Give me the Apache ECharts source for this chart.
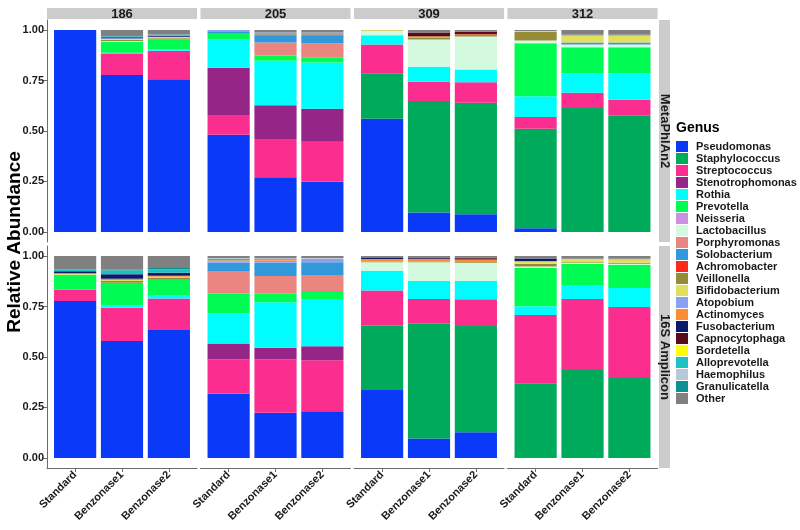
<!DOCTYPE html>
<html>
<head>
<meta charset="utf-8">
<script src="https://cdn.jsdelivr.net/npm/echarts@6/dist/echarts.min.js"></script>
<style>html,body{margin:0;padding:0;background:#fff}#c{width:800px;height:530px}</style>
</head>
<body>
<div id="c"></div>
<script>
const genera = ['Pseudomonas','Staphylococcus','Streptococcus','Stenotrophomonas','Rothia','Prevotella','Neisseria','Lactobacillus','Porphyromonas','Solobacterium','Achromobacter','Veillonella','Bifidobacterium','Atopobium','Actinomyces','Fusobacterium','Capnocytophaga','Bordetella','Alloprevotella','Haemophilus','Granulicatella','Other'];
const genusColors = ['#0a3af7','#00aa5b','#fb2d8e','#952586','#00fdfd','#00fb52','#cc90e0','#d3fadf','#ea8580','#3397dc','#fd2a1a','#968c38','#e0e05e','#8aa0f3','#fd8c37','#0c1a6c','#5a0b1b','#fdfd00','#1fc0c0','#b8c8db','#0f9090','#808080'];
const samples = ['Standard','Benzonase1','Benzonase2'];
const subjects = ['186','205','309','312'];
const methods = ['MetaPhlAn2','16S Amplicon'];
const yTicks = [0, 0.25, 0.5, 0.75, 1];

// MetaPhlAn2 values (Standard, Benzonase1, Benzonase2)
const meta186 = {
  Pseudomonas:[1.0,0.777,0.757], Streptococcus:[0,0.105,0.141], Rothia:[0,0.006,0.007],
  Prevotella:[0,0.055,0.048], Lactobacillus:[0,0.003,0], Veillonella:[0,0.006,0.006],
  Bifidobacterium:[0,0.004,0.005], Atopobium:[0,0.003,0.003], Fusobacterium:[0,0.005,0.005],
  Alloprevotella:[0,0.006,0.006], Other:[0,0.030,0.022]
};
const meta205 = {
  Pseudomonas:[0.482,0.271,0.248], Streptococcus:[0.097,0.189,0.199], Stenotrophomonas:[0.234,0.167,0.163],
  Rothia:[0.141,0.221,0.230], Prevotella:[0.028,0.026,0.025], Porphyromonas:[0,0.064,0.069],
  Solobacterium:[0.009,0.035,0.039], Achromobacter:[0,0.003,0.003], Veillonella:[0,0.004,0.004],
  Atopobium:[0.009,0.008,0.008], Other:[0,0.012,0.012]
};
const meta309 = {
  Pseudomonas:[0.561,0.096,0.088], Staphylococcus:[0.225,0.553,0.552], Streptococcus:[0.142,0.095,0.102],
  Rothia:[0.047,0.074,0.063], Lactobacillus:[0.020,0.135,0.163], Veillonella:[0.003,0.010,0.008],
  Bifidobacterium:[0.002,0,0], Actinomyces:[0,0.007,0.004], Fusobacterium:[0,0.006,0],
  Capnocytophaga:[0,0.012,0.012], Other:[0,0.012,0.008]
};
const meta312 = {
  Pseudomonas:[0.018,0,0], Staphylococcus:[0.493,0.614,0.578], Streptococcus:[0.058,0.076,0.077],
  Rothia:[0.103,0.096,0.130], Prevotella:[0.263,0.129,0.130], Lactobacillus:[0.013,0.013,0.013],
  Solobacterium:[0,0.010,0.010], Veillonella:[0.042,0,0], Bifidobacterium:[0.006,0.034,0.034],
  Atopobium:[0,0.005,0.005], Other:[0.004,0.023,0.023]
};
// 16S Amplicon values
const amp186 = {
  Pseudomonas:[0.777,0.579,0.634], Streptococcus:[0.056,0.165,0.156], Rothia:[0,0.013,0.014],
  Prevotella:[0.070,0.111,0.082], Veillonella:[0.005,0.008,0.008], Bifidobacterium:[0.004,0.006,0.004],
  Actinomyces:[0.003,0.006,0.004], Fusobacterium:[0.010,0.022,0.016], Alloprevotella:[0.010,0.018,0.017],
  Granulicatella:[0,0.005,0.006], Other:[0.065,0.067,0.059]
};
const amp205 = {
  Pseudomonas:[0.318,0.224,0.231], Streptococcus:[0.170,0.264,0.253], Stenotrophomonas:[0.079,0.058,0.069],
  Rothia:[0.149,0.225,0.234], Prevotella:[0.099,0.042,0.040], Porphyromonas:[0.111,0.088,0.079],
  Solobacterium:[0.041,0.066,0.063], Atopobium:[0.008,0.010,0.012], Actinomyces:[0.004,0.008,0.006],
  Alloprevotella:[0.006,0,0], Haemophilus:[0.006,0.004,0.003], Other:[0.009,0.011,0.010]
};
const amp309 = {
  Pseudomonas:[0.337,0.096,0.127], Staphylococcus:[0.318,0.569,0.526], Streptococcus:[0.175,0.122,0.133],
  Rothia:[0.097,0.089,0.090], Lactobacillus:[0.042,0.093,0.091], Veillonella:[0.004,0.003,0.004],
  Actinomyces:[0.012,0.013,0.012], Fusobacterium:[0.005,0.004,0.004], Capnocytophaga:[0,0.004,0.005],
  Other:[0.010,0.007,0.008]
};
const amp312 = {
  Pseudomonas:[0.003,0,0], Staphylococcus:[0.367,0.436,0.396], Streptococcus:[0.338,0.351,0.352],
  Rothia:[0.044,0.066,0.094], Prevotella:[0.190,0.109,0.115], Lactobacillus:[0.006,0.004,0.005],
  Veillonella:[0.014,0.004,0.005], Bifidobacterium:[0.010,0.014,0.016], Atopobium:[0,0.003,0.004],
  Actinomyces:[0.004,0,0], Fusobacterium:[0.012,0,0], Other:[0.012,0.013,0.013]
};
const panelData = [[meta186, meta205, meta309, meta312], [amp186, amp205, amp309, amp312]];

// layout
const FONT = '"Liberation Sans", Arial, sans-serif';
const colLeft = [47, 200.5, 354, 507.5];
const panelW = 150;
const rowTop = [20, 246];
const panelH = 222;
const unit = panelW / 3.2;           // discrete axis expanded by 0.6 on each side
const stripColor = '#cccccc';
const axisColor = '#6b6b6b';

const grids = [], xAxes = [], yAxes = [], series = [], graphics = [];
let gi = 0;
for (let r = 0; r < 2; r++) {
  for (let c = 0; c < 4; c++) {
    const bottom = r === 1, left = c === 0;
    // outer grid: axes, ticks and labels
    grids.push({left: colLeft[c], top: rowTop[r], width: panelW, height: panelH});
    xAxes.push({
      gridIndex: gi, type: 'value', min: 0.4, max: 3.6,
      axisLine: {show: bottom, onZero: false, lineStyle: {color: axisColor, width: 1}},
      axisTick: {show: bottom, length: 4, customValues: [1,2,3], lineStyle: {color: axisColor}},
      axisLabel: {show: bottom, customValues: [1,2,3], rotate: 45, margin: 5,
        formatter: v => samples[Math.round(v) - 1] || '',
        fontFamily: FONT, fontWeight: 'bold', fontSize: 11, color: '#1a1a1a'},
      splitLine: {show: false}
    });
    yAxes.push({
      gridIndex: gi, type: 'value', min: -0.05, max: 1.05,
      axisLine: {show: left, lineStyle: {color: axisColor, width: 1}},
      axisTick: {show: left, length: 4, customValues: yTicks, lineStyle: {color: axisColor}},
      axisLabel: {show: left, customValues: yTicks, margin: 3,
        formatter: v => v.toFixed(2),
        fontFamily: FONT, fontWeight: 'bold', fontSize: 11, color: '#1a1a1a'},
      splitLine: {show: false}
    });
    gi++;
    // inner grid: category axis holding the bars
    grids.push({left: colLeft[c] + 0.1 * unit, top: rowTop[r], width: 3 * unit, height: panelH});
    xAxes.push({gridIndex: gi, type: 'category', data: samples, show: false});
    yAxes.push({gridIndex: gi, type: 'value', min: -0.05, max: 1.05, show: false});
    const d = panelData[r][c];
    genera.forEach((g, k) => {
      series.push({
        type: 'bar', name: g, xAxisIndex: gi, yAxisIndex: gi, stack: 'p' + gi,
        barWidth: '90%',
        data: d[g] || [0, 0, 0],
        itemStyle: {color: genusColors[k], borderWidth: 0},
        emphasis: {disabled: true}, silent: true
      });
    });
    gi++;
  }
}
// top strips
for (let c = 0; c < 4; c++) {
  graphics.push({type: 'rect', shape: {x: colLeft[c], y: 8, width: panelW, height: 11}, style: {fill: stripColor}, silent: true});
  graphics.push({type: 'text', x: colLeft[c] + panelW / 2, y: 14, style: {text: subjects[c], font: 'bold 13px ' + FONT, fill: '#1a1a1a', align: 'center', verticalAlign: 'middle'}, silent: true});
}
// right strips
for (let r = 0; r < 2; r++) {
  graphics.push({type: 'rect', shape: {x: 659, y: rowTop[r], width: 11, height: panelH}, style: {fill: stripColor}, silent: true});
  graphics.push({type: 'text', x: 665, y: rowTop[r] + panelH / 2, rotation: -Math.PI / 2, style: {text: methods[r], font: 'bold 13px ' + FONT, fill: '#1a1a1a', align: 'center', verticalAlign: 'middle'}, silent: true});
}
// y title
graphics.push({type: 'text', x: 15, y: 242, rotation: Math.PI / 2, style: {text: 'Relative Abundance', font: 'bold 19px ' + FONT, fill: '#000', align: 'center', verticalAlign: 'middle'}, silent: true});
// legend title
graphics.push({type: 'text', x: 676, y: 128, style: {text: 'Genus', font: 'bold 14px ' + FONT, fill: '#000', align: 'left', verticalAlign: 'middle'}, silent: true});

const chart = echarts.init(document.getElementById('c'), null, {renderer: 'canvas'});
chart.setOption({
  animation: false,
  backgroundColor: '#fff',
  grid: grids, xAxis: xAxes, yAxis: yAxes, series: series,
  legend: {
    data: genera, orient: 'vertical', left: 671, top: 136,
    itemWidth: 12, itemHeight: 11, itemGap: 1, icon: 'rect', selectedMode: false,
    textStyle: {fontFamily: FONT, fontWeight: 'bold', fontSize: 11, lineHeight: 11, color: '#1a1a1a', padding: [0,0,0,3]}
  },
  graphic: graphics
});
</script>
</body>
</html>
